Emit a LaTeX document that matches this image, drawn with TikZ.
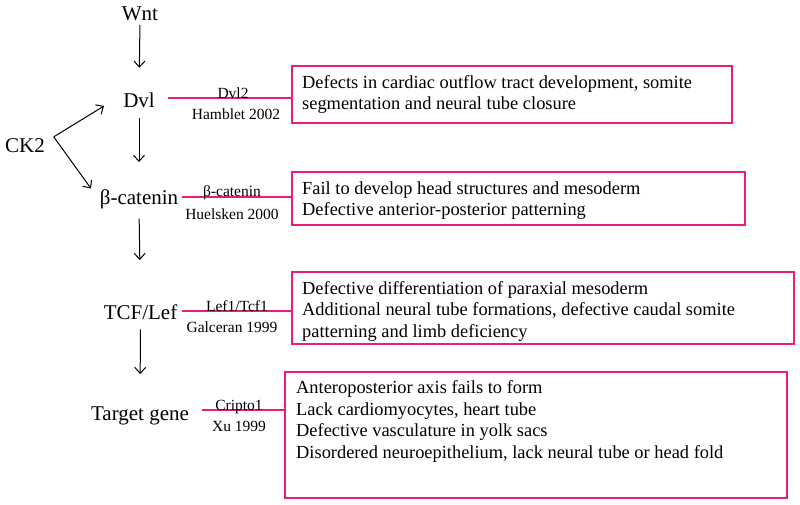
\documentclass[tikz,border=0pt]{standalone}
\usepackage{fontspec}
\setmainfont{Liberation Serif}
\usetikzlibrary{arrows.meta,calc}
\definecolor{pk}{RGB}{233,30,120}
\begin{document}
\begin{tikzpicture}[x=1pt,y=-1pt,
  main/.style={font=\fontsize{21}{25}\selectfont, inner sep=0pt, anchor=base},
  small/.style={font=\fontsize{15.5}{18}\selectfont, inner sep=0pt, anchor=base},
  boxtext/.style={font=\fontsize{18.4}{21.6}\selectfont, inner sep=0pt, anchor=base west, align=left},
  pbox/.style={draw=pk, line width=1.8pt, inner sep=0pt, anchor=north west},
  pline/.style={draw=pk, line width=1.8pt},
  arr/.style={draw=black, line width=1pt, -{Straight Barb[length=6pt,width=11pt,line width=1pt]}}]
\useasboundingbox (0,0) rectangle (800,504);

% pathway nodes
\node[main] (wnt) at (140,20.7) {Wnt};
\node[main] (dvl) at (139,107) {Dvl};
\node[main] (bcat) at (139,204) {β-catenin};
\node[main] (tcf) at (140.5,319) {TCF/Lef};
\node[main] (tg) at (140,420) {Target gene};
\node[main] (ck2) at (25,152) {CK2};

% vertical arrows
\draw[arr, shorten <=4pt, shorten >=24.5pt] (wnt.south) -- (dvl.north);
\draw[arr, shorten <=11pt, shorten >=27pt] (dvl.south) -- (bcat.north);
\draw[arr, shorten <=10pt, shorten >=44pt] (bcat.south) -- (tcf.north);
\draw[arr, shorten <=10pt, shorten >=32pt] (tcf.south) -- (tg.north);

% CK2 arrows
\coordinate (v) at ($(ck2.east)+(8.7,-8.3)$);
\coordinate (t1) at (104,106);
\coordinate (t2) at (91,188.5);
\draw[arr] (v) -- (t1);
\draw[arr] (v) -- (t2);

% boxes
\node[pbox, minimum width=440pt, minimum height=57pt] (b1) at (291,64.7) {};
\node[pbox, minimum width=453pt, minimum height=52.4pt] (b2) at (291,171.3) {};
\node[pbox, minimum width=501.7pt, minimum height=72pt] (b3) at (291,271.3) {};
\node[pbox, minimum width=501.7pt, minimum height=126pt] (b4) at (284.3,370.7) {};

\node[boxtext] (x1) at (302,109.6) {Defects in cardiac outflow tract development, somite\\segmentation and neural tube closure};
\node[boxtext] (x2) at (302,215.9) {Fail to develop head structures and mesoderm\\Defective anterior-posterior patterning};
\node[boxtext] (x3) at (302,337.5) {Defective differentiation of paraxial mesoderm\\Additional neural tube formations, defective caudal somite\\patterning and limb deficiency};
\node[boxtext] (x4) at (296,458.3) {Anteroposterior axis fails to form\\Lack cardiomyocytes, heart tube\\Defective vasculature in yolk sacs\\Disordered neuroepithelium, lack neural tube or head fold};

% pink connectors
\coordinate (l1) at (168,98);
\coordinate (l2) at (182,197);
\coordinate (l3) at (182,311);
\coordinate (l4) at (202,410);
\draw[pline] (l1) -- (l1 -| b1.west);
\draw[pline] (l2) -- (l2 -| b2.west);
\draw[pline] (l3) -- (l3 -| b3.west);
\draw[pline] (l4) -- (l4 -| b4.west);

% labels
\node[small] (g1) at (233,98) {Dvl2};
\node[small] (r1) at (236,119.5) {Hamblet 2002};
\node[small] (g2) at (232,196) {β-catenin};
\node[small] (r2) at (232,219) {Huelsken 2000};
\node[small] (g3) at (237,311.7) {Lef1/Tcf1};
\node[small] (r3) at (232,332) {Galceran 1999};
\node[small] (g4) at (239,410) {Cripto1};
\node[small] (r4) at (239,431) {Xu 1999};
\end{tikzpicture}
\end{document}
